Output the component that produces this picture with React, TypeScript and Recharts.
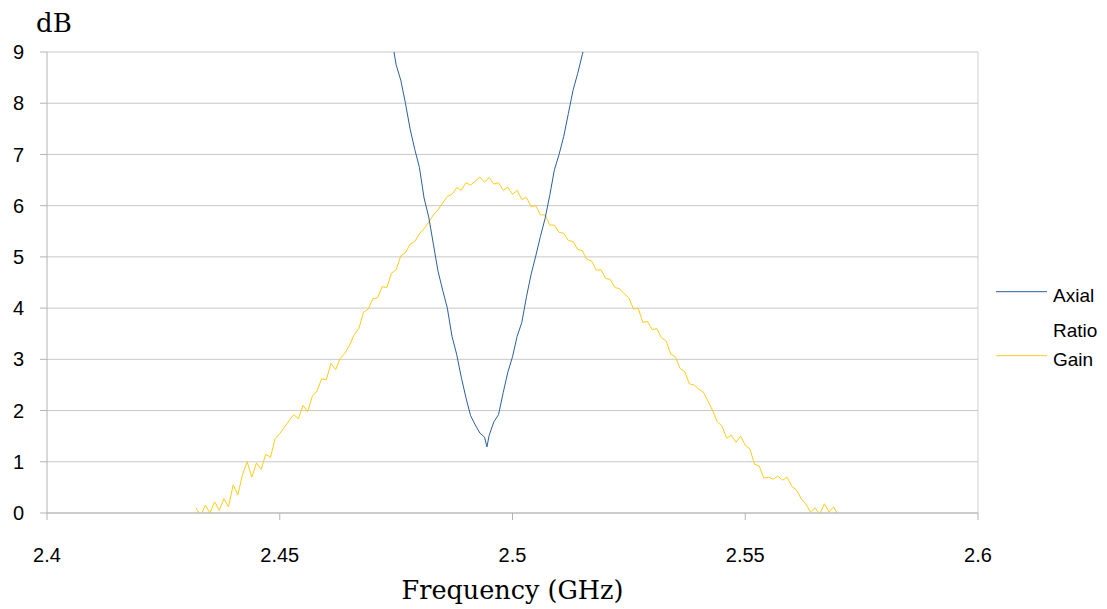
import React from 'react';
import { LineChart, Line, XAxis, YAxis, CartesianGrid, ReferenceLine, Legend, Label } from 'recharts';

const xTicks = [2.4, 2.45, 2.5, 2.55, 2.6];
const yTicks = [0, 1, 2, 3, 4, 5, 6, 7, 8, 9];
const legendLabels = ['Axial', 'Ratio', 'Gain'];

const arFreq = [2.474, 2.475, 2.476, 2.477, 2.478, 2.479, 2.48, 2.481, 2.482, 2.483, 2.484, 2.485, 2.486, 2.487, 2.488, 2.489, 2.49, 2.491, 2.492, 2.493, 2.494, 2.4945, 2.495, 2.496, 2.497, 2.498, 2.499, 2.5, 2.501, 2.502, 2.503, 2.504, 2.505, 2.506, 2.507, 2.508, 2.509, 2.51, 2.511, 2.512, 2.513, 2.514, 2.515, 2.516];
const arDb = [9.3, 8.75, 8.45, 8.0, 7.5, 7.1, 6.75, 6.15, 5.78, 5.25, 4.72, 4.35, 4.0, 3.45, 3.1, 2.65, 2.25, 1.9, 1.72, 1.56, 1.48, 1.29, 1.52, 1.78, 1.92, 2.35, 2.75, 3.05, 3.45, 3.72, 4.22, 4.66, 5.02, 5.4, 5.75, 6.2, 6.7, 7.0, 7.35, 7.8, 8.25, 8.58, 8.95, 9.3];

const gainFreq = [2.432, 2.433, 2.434, 2.435, 2.436, 2.437, 2.438, 2.439, 2.44, 2.441, 2.442, 2.443, 2.444, 2.445, 2.446, 2.447, 2.448, 2.449, 2.45, 2.451, 2.452, 2.453, 2.454, 2.455, 2.456, 2.457, 2.458, 2.459, 2.46, 2.461, 2.462, 2.463, 2.464, 2.465, 2.466, 2.467, 2.468, 2.469, 2.47, 2.471, 2.472, 2.473, 2.474, 2.475, 2.476, 2.477, 2.478, 2.479, 2.48, 2.481, 2.482, 2.483, 2.484, 2.485, 2.486, 2.487, 2.488, 2.489, 2.49, 2.491, 2.492, 2.493, 2.494, 2.495, 2.496, 2.497, 2.498, 2.499, 2.5, 2.501, 2.502, 2.503, 2.504, 2.505, 2.506, 2.507, 2.508, 2.509, 2.51, 2.511, 2.512, 2.513, 2.514, 2.515, 2.516, 2.517, 2.518, 2.519, 2.52, 2.521, 2.522, 2.523, 2.524, 2.525, 2.526, 2.527, 2.528, 2.529, 2.53, 2.531, 2.532, 2.533, 2.534, 2.535, 2.536, 2.537, 2.538, 2.539, 2.54, 2.541, 2.542, 2.543, 2.544, 2.545, 2.546, 2.547, 2.548, 2.549, 2.55, 2.551, 2.552, 2.553, 2.554, 2.555, 2.556, 2.557, 2.558, 2.559, 2.56, 2.561, 2.562, 2.563, 2.564, 2.565, 2.566, 2.567, 2.568, 2.569, 2.57];
const gainDb = [0.1, -0.05, 0.15, 0.0, 0.22, 0.05, 0.28, 0.12, 0.55, 0.35, 0.75, 1.0, 0.7, 0.98, 0.85, 1.15, 1.08, 1.45, 1.55, 1.68, 1.8, 1.92, 1.84, 2.1, 1.98, 2.28, 2.38, 2.62, 2.6, 2.92, 2.8, 3.02, 3.12, 3.28, 3.48, 3.6, 3.92, 3.98, 4.18, 4.2, 4.42, 4.4, 4.68, 4.75, 5.02, 5.08, 5.25, 5.3, 5.45, 5.55, 5.68, 5.82, 5.92, 6.05, 6.18, 6.22, 6.35, 6.3, 6.45, 6.4, 6.48, 6.56, 6.46, 6.55, 6.42, 6.45, 6.3, 6.36, 6.22, 6.3, 6.12, 6.16, 5.98, 6.0, 5.82, 5.82, 5.62, 5.62, 5.48, 5.46, 5.32, 5.3, 5.15, 5.12, 4.95, 4.92, 4.74, 4.75, 4.58, 4.56, 4.4, 4.38, 4.28, 4.2, 3.98, 4.0, 3.72, 3.74, 3.58, 3.6, 3.42, 3.36, 3.1, 3.05, 2.82, 2.76, 2.52, 2.5, 2.42, 2.36, 2.18, 2.0, 1.78, 1.7, 1.46, 1.52, 1.38, 1.5, 1.32, 1.25, 0.95, 0.92, 0.68, 0.7, 0.66, 0.72, 0.64, 0.7, 0.52, 0.45, 0.28, 0.18, 0.02, 0.1, -0.02, 0.18, 0.02, 0.12, -0.05];

const arData = arFreq.map((f, i) => ({ f, v: arDb[i] }));
const gainData = gainFreq.map((f, i) => ({ f, v: gainDb[i] }));

const AR_COLOR = '#2a5f9e';
const GAIN_COLOR = '#ffcc1a';
const SANS = '"Liberation Sans", Arial, sans-serif';
const SERIF = '"DejaVu Serif", serif';

const LegendBox = () => (
  <svg width={117} height={110} style={{ display: 'block' }}>
    <line x1={6} x2={57} y1={21.7} y2={21.7} stroke={AR_COLOR} strokeWidth={1} />
    <text x={63} y={31.7} fontFamily={SANS} fontSize={19} fill="#000">{legendLabels[0]}</text>
    <text x={63} y={66.7} fontFamily={SANS} fontSize={19} fill="#000">{legendLabels[1]}</text>
    <line x1={6} x2={57} y1={85.7} y2={85.7} stroke={GAIN_COLOR} strokeWidth={1} />
    <text x={63} y={95.5} fontFamily={SANS} fontSize={19} fill="#000">{legendLabels[2]}</text>
  </svg>
);

export default function App() {
  return (
    <div style={{ position: 'absolute', left: 0, top: 0, width: 1107, height: 609, background: '#fff' }}>
      <LineChart width={1107} height={609} margin={{ top: 52, right: 129, left: 0, bottom: 0 }}>
        <CartesianGrid vertical={false} stroke="#c8c8c8" />
        <XAxis
          dataKey="f"
          type="number"
          domain={[2.4, 2.6]}
          ticks={xTicks}
          allowDataOverflow
          height={96}
          tickSize={7}
          tickMargin={28}
          stroke="#b4b4b4"
          tick={{ fill: '#000', fontSize: 20, fontFamily: SANS }}
          tickFormatter={(v: number) => String(v)}
        >
          <Label value="Frequency (GHz)" position="insideBottom" offset={10} style={{ fontFamily: SERIF, fontSize: 25.5, fill: '#000' }} />
        </XAxis>
        <YAxis
          type="number"
          domain={[0, 9]}
          ticks={yTicks}
          allowDataOverflow
          width={47}
          tickSize={7}
          tickMargin={16}
          stroke="#b4b4b4"
          tick={{ fill: '#000', fontSize: 20, fontFamily: SANS }}
        >
          <Label
            content={() => (
              <text x={36} y={32} fontFamily={SERIF} fontSize={26} fill="#000">dB</text>
            )}
          />
        </YAxis>
        <ReferenceLine x={2.6} stroke="#d0d0d0" />
        <Legend layout="horizontal" verticalAlign="middle" align="center" wrapperStyle={{ left: 990, top: 270, width: 117, height: 110 }} content={() => <LegendBox />} />
        <Line data={gainData} dataKey="v" type="linear" stroke={GAIN_COLOR} strokeWidth={1} dot={false} isAnimationActive={false} name="Gain" />
        <Line data={arData} dataKey="v" type="linear" stroke={AR_COLOR} strokeWidth={1} dot={false} isAnimationActive={false} name="Axial Ratio" />
      </LineChart>
    </div>
  );
}
